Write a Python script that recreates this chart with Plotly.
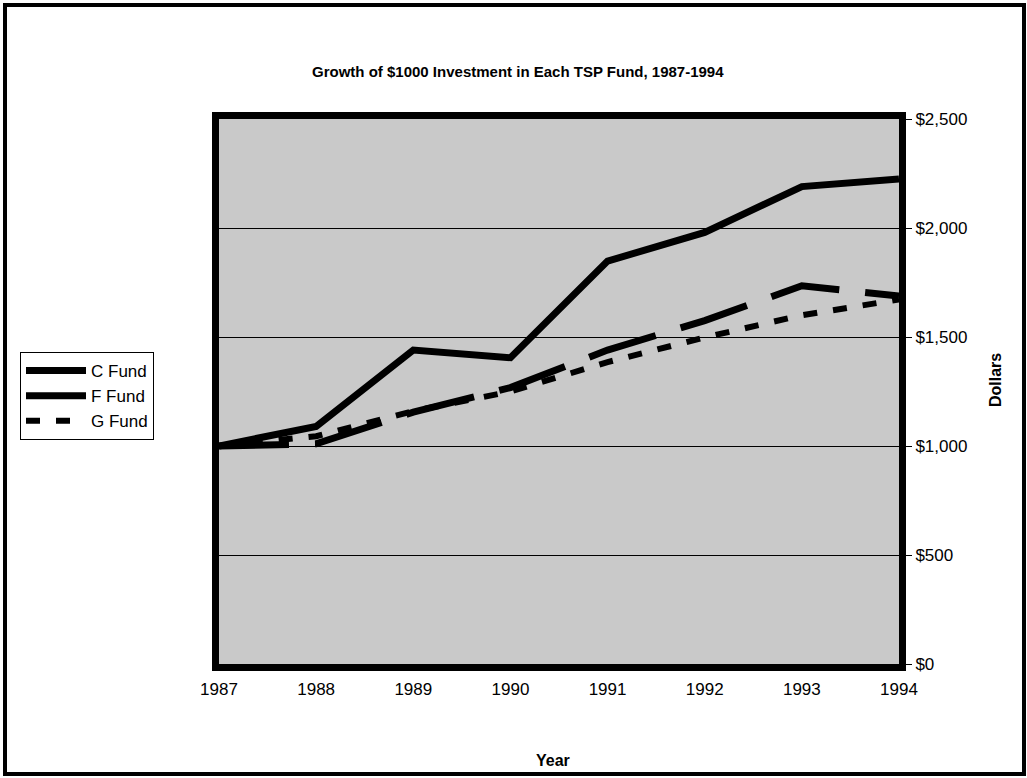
import plotly.graph_objects as go

years = [1987, 1988, 1989, 1990, 1991, 1992, 1993, 1994]
c_fund = [1000, 1090, 1440, 1405, 1848, 1980, 2190, 2225]
f_fund = [1000, 1010, 1155, 1268, 1440, 1575, 1735, 1688]
g_fund = [1000, 1045, 1160, 1250, 1385, 1498, 1600, 1672]
y_ticks = [0, 500, 1000, 1500, 2000, 2500]
y_tick_labels = ["$0", "$500", "$1,000", "$1,500", "$2,000", "$2,500"]

FONT = "Liberation Sans, Arial, sans-serif"

W, H = 1027, 778
PL, PT, PR, PB = 219, 119, 899, 664  # plot area in window pixels
PW, PH = PR - PL, PB - PT


def px(X):
    return (X - PL) / PW


def py(Y):
    return (PB - Y) / PH


fig = go.Figure()
fig.add_trace(go.Scatter(x=years, y=c_fund, mode="lines", name="C Fund",
                         line=dict(color="black", width=7)))
fig.add_trace(go.Scatter(x=years, y=f_fund, mode="lines", name="F Fund",
                         line=dict(color="black", width=7, dash="70px,26px")))
fig.add_trace(go.Scatter(x=years, y=g_fund, mode="lines", name="G Fund",
                         line=dict(color="black", width=6, dash="14px,16px")))

fig.update_layout(
    width=W, height=H,
    margin=dict(l=PL, r=W - PR, t=PT, b=H - PB),
    paper_bgcolor="white",
    plot_bgcolor="#c9c9c9",
    font=dict(family=FONT, size=17, color="black"),
    showlegend=True,
    legend=dict(x=px(20), y=py(352), xanchor="left", yanchor="top",
                bgcolor="white", bordercolor="black", borderwidth=1,
                font=dict(family=FONT, size=17, color="black"),
                itemwidth=60, tracegroupgap=6),
    xaxis=dict(range=[1987, 1994], tickvals=years, ticktext=[str(y) for y in years],
               showgrid=False, zeroline=False, showline=True, linecolor="black",
               linewidth=7, mirror=True, ticks="", ticklabelstandoff=4,
               tickfont=dict(size=17)),
    yaxis=dict(range=[0, 2500], tickvals=y_ticks, ticktext=y_tick_labels,
               side="right", showgrid=True, gridcolor="black",
               gridwidth=1, zeroline=False, showline=True, linecolor="black",
               linewidth=7, mirror=True, ticks="outside", ticklen=6,
               tickcolor="black", tickfont=dict(size=17)),
    annotations=[
        dict(text="<b>Growth of $1000 Investment in Each TSP Fund, 1987-1994</b>",
             xref="paper", yref="paper", x=px(518), y=py(72),
             xanchor="center", yanchor="middle", showarrow=False,
             font=dict(family=FONT, size=15)),
        dict(text="<b>Year</b>", xref="paper", yref="paper",
             x=px(553), y=py(760),
             xanchor="center", yanchor="middle", showarrow=False,
             font=dict(family=FONT, size=16)),
        dict(text="<b>Dollars</b>", xref="paper", yref="paper",
             x=px(995), y=py(380), textangle=-90,
             xanchor="center", yanchor="middle", showarrow=False,
             font=dict(family=FONT, size=16)),
    ],
    shapes=[
        dict(type="rect", xref="paper", yref="paper",
             x0=px(5), x1=px(1024), y0=py(774), y1=py(5),
             line=dict(color="black", width=4), fillcolor="rgba(0,0,0,0)",
             layer="below"),
    ],
)

fig.write_html(
    "out.html",
    config={"displayModeBar": False},
    post_script="document.body.style.margin='0';document.body.style.overflow='hidden';",
)
